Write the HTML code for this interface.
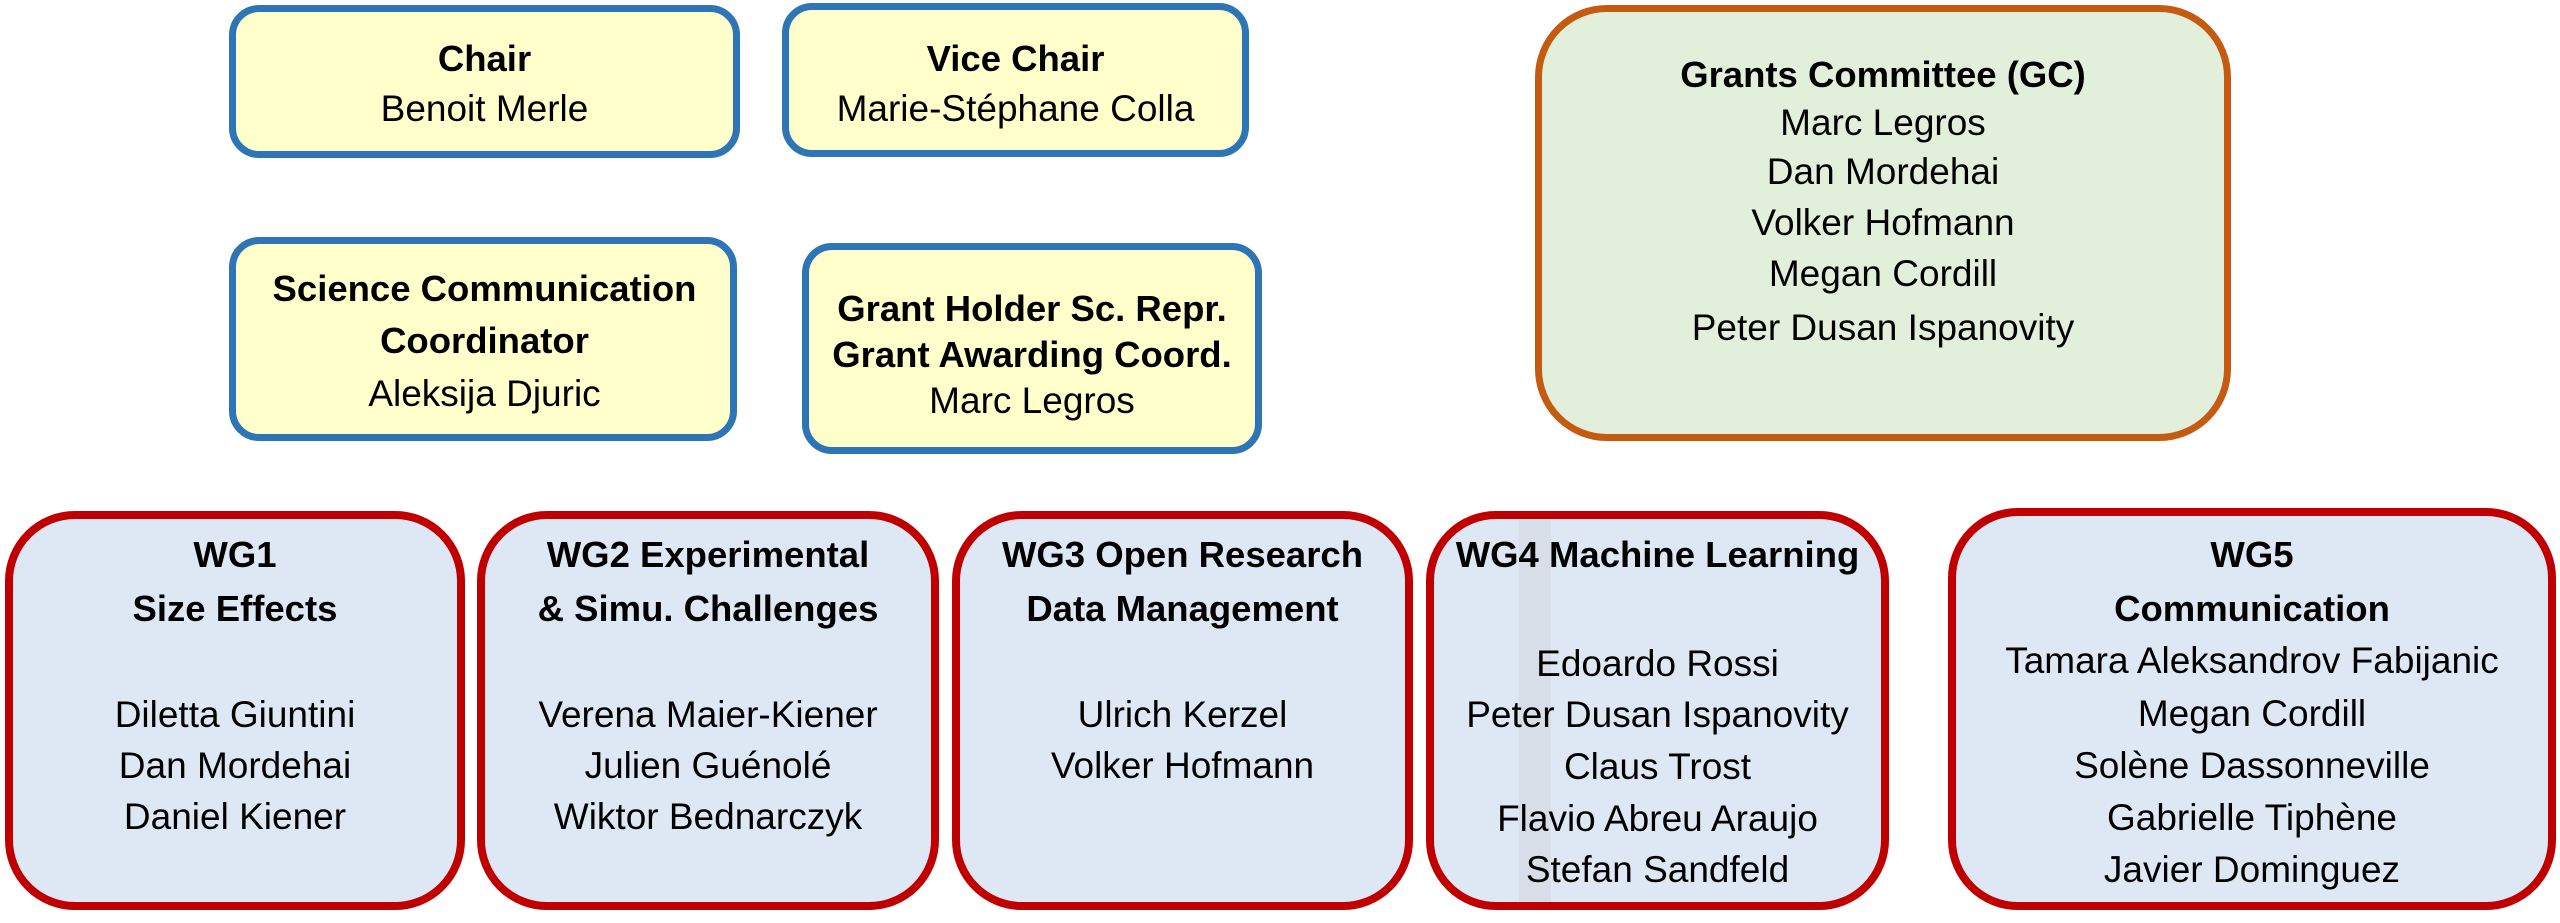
<!DOCTYPE html>
<html><head><meta charset="utf-8"><style>
body{margin:0;width:2560px;height:923px;background:#fff;position:relative;overflow:hidden;font-family:"Liberation Sans",sans-serif;color:#000}
.b{position:absolute;box-sizing:border-box}
.y{background:#ffffcc;border:7px solid #2e75b6;border-radius:30px}
.g{background:#e2efda;border:7px solid #c55a11;border-radius:72px}
.r{background:#dee8f5;border:8px solid #c00000;border-radius:70px}
.t{position:absolute;left:-20px;right:-20px;text-align:center;font-size:37px;line-height:50px;white-space:nowrap;transform:translateY(-25px)}
.t.k{font-weight:bold;font-size:36.5px}
</style></head><body>
<div class="b y" style="left:229px;top:5px;width:511px;height:153px"></div>
<div class="b y" style="left:782px;top:3px;width:467px;height:154px"></div>
<div class="b y" style="left:229px;top:237px;width:508px;height:204px"></div>
<div class="b y" style="left:802px;top:243px;width:460px;height:211px"></div>
<div class="b g" style="left:1535px;top:5px;width:696px;height:436px"></div>
<div class="b r" style="left:5px;top:511px;width:460px;height:399px"></div>
<div class="b r" style="left:477px;top:511px;width:462px;height:399px"></div>
<div class="b r" style="left:952px;top:511px;width:461px;height:399px"></div>
<div class="b r" style="left:1426px;top:511px;width:463px;height:399px"></div>
<div class="b" style="left:1519px;top:520px;width:32px;height:382px;background:#d8dee8"></div>
<div class="b r" style="left:1948px;top:508px;width:608px;height:402px"></div>

<div class="b" style="left:229px;top:0;width:511px;height:923px">
<div class="t k" style="top:59px">Chair</div><div class="t" style="top:109px">Benoit Merle</div>
<div class="t k" style="top:289px">Science Communication</div><div class="t k" style="top:341px">Coordinator</div><div class="t" style="top:394px">Aleksija Djuric</div>
</div>
<div class="b" style="left:782px;top:0;width:467px;height:923px">
<div class="t k" style="top:59px">Vice Chair</div><div class="t" style="top:109px">Marie-Stéphane Colla</div>
</div>
<div class="b" style="left:802px;top:0;width:460px;height:923px">
<div class="t k" style="top:309px">Grant Holder Sc. Repr.</div><div class="t k" style="top:355px">Grant Awarding Coord.</div><div class="t" style="top:401px">Marc Legros</div>
</div>
<div class="b" style="left:1535px;top:0;width:696px;height:923px">
<div class="t k" style="top:75px">Grants Committee (GC)</div><div class="t" style="top:123px">Marc Legros</div><div class="t" style="top:172px">Dan Mordehai</div><div class="t" style="top:223px">Volker Hofmann</div><div class="t" style="top:274px">Megan Cordill</div><div class="t" style="top:328px">Peter Dusan Ispanovity</div>
</div>
<div class="b" style="left:5px;top:0;width:460px;height:923px">
<div class="t k" style="top:555px">WG1</div><div class="t k" style="top:609px">Size Effects</div><div class="t" style="top:715px">Diletta Giuntini</div><div class="t" style="top:766px">Dan Mordehai</div><div class="t" style="top:817px">Daniel Kiener</div>
</div>
<div class="b" style="left:477px;top:0;width:462px;height:923px">
<div class="t k" style="top:555px">WG2 Experimental</div><div class="t k" style="top:609px">&amp; Simu. Challenges</div><div class="t" style="top:715px">Verena Maier-Kiener</div><div class="t" style="top:766px">Julien Guénolé</div><div class="t" style="top:817px">Wiktor Bednarczyk</div>
</div>
<div class="b" style="left:952px;top:0;width:461px;height:923px">
<div class="t k" style="top:555px">WG3 Open Research</div><div class="t k" style="top:609px">Data Management</div><div class="t" style="top:715px">Ulrich Kerzel</div><div class="t" style="top:766px">Volker Hofmann</div>
</div>
<div class="b" style="left:1426px;top:0;width:463px;height:923px">
<div class="t k" style="top:555px">WG4 Machine Learning</div><div class="t" style="top:664px">Edoardo Rossi</div><div class="t" style="top:715px">Peter Dusan Ispanovity</div><div class="t" style="top:767px">Claus Trost</div><div class="t" style="top:819px">Flavio Abreu Araujo</div><div class="t" style="top:870px">Stefan Sandfeld</div>
</div>
<div class="b" style="left:1948px;top:0;width:608px;height:923px">
<div class="t k" style="top:555px">WG5</div><div class="t k" style="top:609px">Communication</div><div class="t" style="top:661px">Tamara Aleksandrov Fabijanic</div><div class="t" style="top:714px">Megan Cordill</div><div class="t" style="top:766px">Solène Dassonneville</div><div class="t" style="top:818px">Gabrielle Tiphène</div><div class="t" style="top:870px">Javier Dominguez</div>
</div>
</body></html>
